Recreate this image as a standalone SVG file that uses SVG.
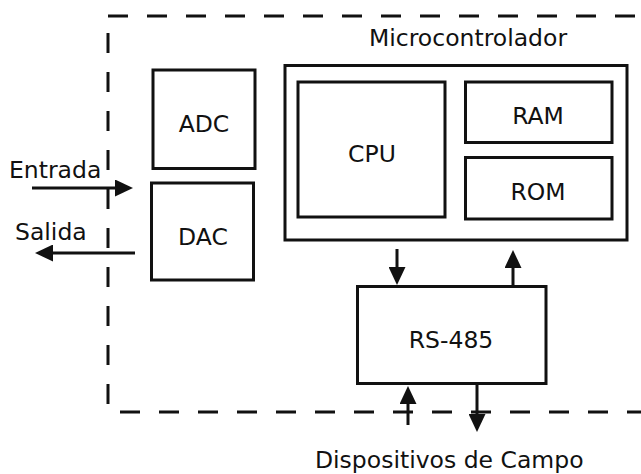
<svg xmlns="http://www.w3.org/2000/svg" width="641" height="474" viewBox="0 0 641 474">
<style>
.box{fill:none;stroke:#111;stroke-width:3}
.dash{fill:none;stroke:#111;stroke-width:3;stroke-dasharray:20 19}
.t{font-family:"DejaVu Sans",sans-serif;font-size:23.5px;fill:#111}
.c{text-anchor:middle}
.ln{stroke:#111;stroke-width:3;fill:none;marker-end:url(#ah)}
</style>
<defs>
<marker id="ah" markerUnits="userSpaceOnUse" markerWidth="18" markerHeight="17" refX="3" refY="8.5" orient="auto" viewBox="0 0 18 17">
<path d="M0,0 L18,8.5 L0,17 z" fill="#111"/>
</marker>
</defs>
<rect width="641" height="474" fill="#fff"/>
<g id="boundary">
<line class="dash" x1="108" y1="16" x2="641" y2="16"/>
<line class="dash" x1="108" y1="16" x2="108" y2="412" stroke-dashoffset="22"/>
<line class="dash" x1="108" y1="412" x2="641" y2="412" stroke-dashoffset="27"/>
</g>
<g id="microcontrolador">
<rect class="box" x="285" y="65.5" width="342" height="174.5"/>
<text class="t" x="369" y="46">Microcontrolador</text>
</g>
<g id="adc">
<rect class="box" x="153" y="70" width="102" height="98.5"/>
<text class="t c" x="204" y="132">ADC</text>
</g>
<g id="dac">
<rect class="box" x="151.5" y="183" width="102" height="97"/>
<text class="t c" x="203" y="245">DAC</text>
</g>
<g id="cpu">
<rect class="box" x="298" y="82" width="147" height="135"/>
<text class="t c" x="372" y="162">CPU</text>
</g>
<g id="ram">
<rect class="box" x="465.5" y="82" width="146.5" height="60.5"/>
<text class="t c" x="538" y="124">RAM</text>
</g>
<g id="rom">
<rect class="box" x="465.5" y="157.5" width="146.5" height="61.5"/>
<text class="t c" x="538" y="200">ROM</text>
</g>
<g id="rs485">
<rect class="box" x="357.5" y="286.5" width="188.5" height="97"/>
<text class="t c" x="451" y="348">RS-485</text>
</g>
<g id="labels">
<text class="t" x="9" y="178">Entrada</text>
<text class="t" x="15" y="240">Salida</text>
<text class="t" x="315" y="468">Dispositivos de Campo</text>
</g>
<g id="connectors">
<line class="ln" x1="32" y1="188" x2="118" y2="188"/>
<line class="ln" x1="135" y1="253" x2="50" y2="253"/>
<line class="ln" x1="397" y1="249" x2="397" y2="270"/>
<line class="ln" x1="513" y1="285" x2="513" y2="265"/>
<line class="ln" x1="408" y1="425" x2="408" y2="401"/>
<line class="ln" x1="477" y1="385" x2="477" y2="417"/>
</g>
</svg>
